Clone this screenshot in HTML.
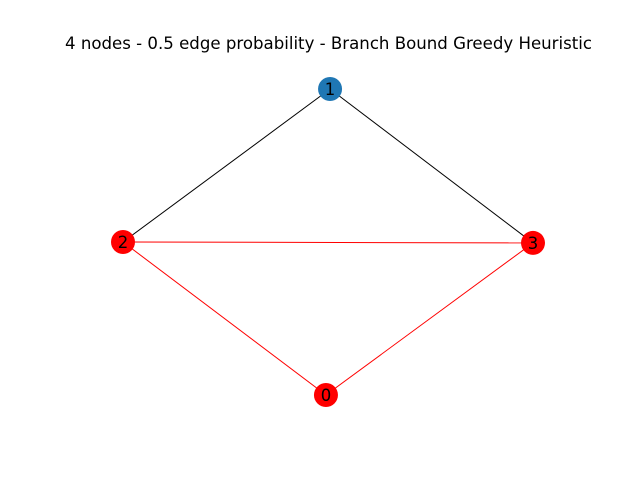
<!DOCTYPE html>
<html><head><meta charset="utf-8"><style>
html,body{margin:0;padding:0;background:#fff;}
svg{display:block;font-family:"DejaVu Sans","Liberation Sans",sans-serif;}
</style></head><body>
<svg id="chart" width="640" height="480" viewBox="0 0 640 480">
<rect width="640" height="480" fill="#fff"/>
<text x="328.5" y="49" text-anchor="middle" font-size="16.6" fill="#000">4 nodes - 0.5 edge probability - Branch Bound Greedy Heuristic</text>
<g id="edges"></g>
<g id="nodes"></g>
</svg>
<script>
// node layout (data coords)
var nodeIds = ["0","1","2","3"];
var nodeX = [0.495, 0.505, 0.0, 1.0];
var nodeY = [0.0, 1.0, 0.5, 0.497];
var nodeColors = ["red","#1f77b4","red","red"];
var edgeFrom = ["1","1","2","2","3"];
var edgeTo = ["2","3","3","0","0"];
var edgeColors = ["black","black","red","red","red"];

function sx(v){ return 123 + v*(533-123); }
function sy(v){ return 395 - v*(395-89); }
var NS="http://www.w3.org/2000/svg";
var eg=document.getElementById("edges"), ng=document.getElementById("nodes");
for(var i=0;i<edgeFrom.length;i++){
  var a=nodeIds.indexOf(edgeFrom[i]), b=nodeIds.indexOf(edgeTo[i]);
  var l=document.createElementNS(NS,"line");
  l.setAttribute("x1",sx(nodeX[a]));l.setAttribute("y1",sy(nodeY[a]));
  l.setAttribute("x2",sx(nodeX[b]));l.setAttribute("y2",sy(nodeY[b]));
  l.setAttribute("stroke",edgeColors[i]);l.setAttribute("stroke-width","1");
  
  
  eg.appendChild(l);
}
for(var j=0;j<nodeIds.length;j++){
  var c=document.createElementNS(NS,"circle");
  c.setAttribute("cx",sx(nodeX[j]));c.setAttribute("cy",sy(nodeY[j]));
  c.setAttribute("r","12");c.setAttribute("fill",nodeColors[j]);
  
  
  ng.appendChild(c);
  var t=document.createElementNS(NS,"text");
  t.setAttribute("x",sx(nodeX[j]));t.setAttribute("y",sy(nodeY[j])+6);
  t.setAttribute("text-anchor","middle");t.setAttribute("font-size","16.5");
  t.textContent=nodeIds[j];
  
  
  ng.appendChild(t);
}
</script>
</body></html>
